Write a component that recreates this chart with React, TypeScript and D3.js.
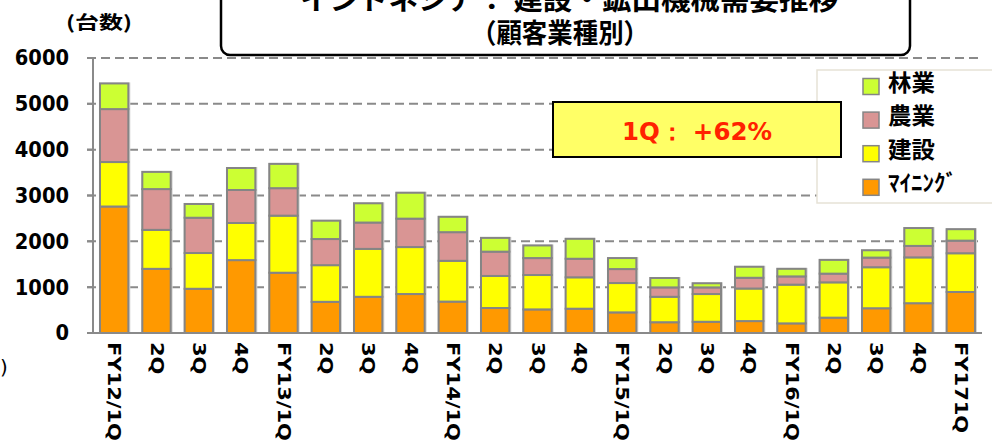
import React from 'react';
import * as d3 from 'd3';

const W = 992;
const H = 443;

const categories = ['FY12/1Q', '2Q', '3Q', '4Q', 'FY13/1Q', '2Q', '3Q', '4Q', 'FY14/1Q', '2Q', '3Q', '4Q', 'FY15/1Q', '2Q', '3Q', '4Q', 'FY16/1Q', '2Q', '3Q', '4Q', 'FY171Q'];
const mining = [2760, 1400, 965, 1590, 1315, 680, 790, 850, 685, 545, 515, 530, 450, 235, 245, 260, 210, 335, 540, 650, 895];
const construction = [970, 850, 780, 810, 1245, 800, 1045, 1025, 890, 700, 750, 685, 640, 555, 605, 710, 845, 770, 895, 1000, 845];
const agriculture = [1155, 890, 770, 720, 600, 570, 575, 620, 625, 530, 370, 405, 305, 205, 145, 235, 180, 190, 210, 250, 275];
const forestry = [560, 375, 300, 480, 530, 400, 420, 565, 335, 300, 275, 435, 240, 205, 90, 240, 165, 300, 160, 390, 250];
const yTicks = [0, 1000, 2000, 3000, 4000, 5000, 6000];

const SERIES = [
  { key: 'mining', label: 'ﾏｲﾆﾝｸﾞ', color: '#ff9900' },
  { key: 'construction', label: '建設', color: '#ffff00' },
  { key: 'agriculture', label: '農業', color: '#d99594' },
  { key: 'forestry', label: '林業', color: '#ccff33' },
];

const PLOT = { left: 93, right: 982, top: 58, bottom: 333 };
const LATIN = '"DejaVu Sans", Verdana, sans-serif';
const CJK = '"Noto Sans CJK JP", "DejaVu Sans", sans-serif';

export default function App() {
  const rows = categories.map((c, i) => ({
    idx: i,
    mining: mining[i],
    construction: construction[i],
    agriculture: agriculture[i],
    forestry: forestry[i],
  }));

  const x = d3.scaleBand<number>()
    .domain(categories.map((_, i) => i))
    .range([PLOT.left, PLOT.right])
    .paddingInner(0.33)
    .paddingOuter(0.165);
  const y = d3.scaleLinear().domain([0, 6000]).range([PLOT.bottom, PLOT.top]);

  const stacked = d3.stack<any>().keys(SERIES.map(s => s.key))(rows);
  const totals = rows.map(r => r.mining + r.construction + r.agriculture + r.forestry);

  // legend order top->bottom is reversed stack order
  const legendItems = [...SERIES].reverse();

  return (
    <svg width={W} height={H} style={{ position: 'absolute', left: 0, top: 0, background: '#fff' }}>
      {/* gridlines */}
      {yTicks.filter(t => t > 0).map(t => (
        <line key={t} x1={PLOT.left - 6} x2={PLOT.right} y1={y(t)} y2={y(t)}
          stroke="#8a8a8a" strokeWidth={2} strokeDasharray="9,5" />
      ))}

      {/* bar shadows */}
      {rows.map((r, i) => (
        <rect key={'sh' + i} x={x(i)! - 1} y={y(totals[i]) - 1} width={x.bandwidth() + 3}
          height={PLOT.bottom - y(totals[i]) + 2} fill="#d6d6d6" />
      ))}

      {/* stacked bars */}
      {stacked.map((layer, li) => (
        <g key={layer.key}>
          {layer.map((d, i) => (
            <rect key={i} x={x(i)} y={y(d[1])} width={x.bandwidth()} height={y(d[0]) - y(d[1])}
              fill={SERIES[li].color} stroke="#858585" strokeWidth={2} />
          ))}
        </g>
      ))}

      {/* axes */}
      <line x1={PLOT.left} x2={PLOT.left} y1={PLOT.top} y2={PLOT.bottom} stroke="#8a8a8a" strokeWidth={2} />
      <line x1={PLOT.left - 6} x2={PLOT.right} y1={PLOT.bottom} y2={PLOT.bottom} stroke="#8a8a8a" strokeWidth={2} />
      {yTicks.map(t => (
        <g key={'t' + t}>
          <line x1={PLOT.left - 6} x2={PLOT.left} y1={y(t)} y2={y(t)} stroke="#8a8a8a" strokeWidth={2} />
          <text x={69} y={y(t)} textAnchor="end" dominantBaseline="central"
            fontFamily={LATIN} fontWeight="bold" fontSize={19.5}
            transform={`translate(0,${y(t)}) scale(1,1.12) translate(0,${-y(t)})`}>{t}</text>
        </g>
      ))}

      {/* x labels */}
      {categories.map((c, i) => {
        const cx = x(i)! + x.bandwidth() / 2;
        return (
          <text key={'x' + i} transform={`translate(${cx},342) rotate(90) scale(1.2,1)`}
            dominantBaseline="central" fontFamily={LATIN} fontWeight="bold" fontSize={17.5} fill="#000">{c}</text>
        );
      })}

      {/* unit label */}
      <text x={66} y={29} fontFamily={CJK} fontWeight="bold" fontSize={18} textLength={66}
        lengthAdjust="spacingAndGlyphs">(台数)</text>
      <text x={0} y={374} fontFamily={LATIN} fontSize={20}>)</text>

      {/* legend */}
      <rect x={817} y={70} width={200} height={133} fill="#fff" stroke="#e6e2d6" strokeWidth={1.5} />
      {legendItems.map((s, i) => {
        const cy = 86.5 + i * 33.6;
        return (
          <g key={s.key}>
            <rect x={863} y={cy - 8} width={16} height={16} fill={s.color} stroke="#858585" strokeWidth={1.5} />
            <text x={888} y={cy + 4} fontFamily={CJK} fontWeight="bold" fontSize={23}
              textLength={s.key === 'mining' ? 69 : 47} lengthAdjust="spacingAndGlyphs">{s.label}</text>
          </g>
        );
      })}

      {/* annotation */}
      <rect x={553} y={102} width={288} height={55} fill="#ffff66" stroke="#000" strokeWidth={2} />
      <text x={697} y={140} textAnchor="middle" fontFamily={LATIN} fontWeight="bold" fontSize={24}
        fill="#ff2200" textLength={150} lengthAdjust="spacingAndGlyphs">1Q： +62%</text>

      {/* title box */}
      <rect x={221} y={-20} width={689} height={75} rx={9} fill="#fff" stroke="#000" strokeWidth={2.5} />
      <text x={300} y={10} fontFamily={CJK} fontWeight="bold" fontSize={28} textLength={538}
        lengthAdjust="spacingAndGlyphs">インドネシア： 建設・鉱山機械需要推移</text>
      <text x={560} y={43} textAnchor="middle" fontFamily={CJK} fontWeight="bold" fontSize={27}
        textLength={178} lengthAdjust="spacingAndGlyphs">（顧客業種別）</text>
    </svg>
  );
}
